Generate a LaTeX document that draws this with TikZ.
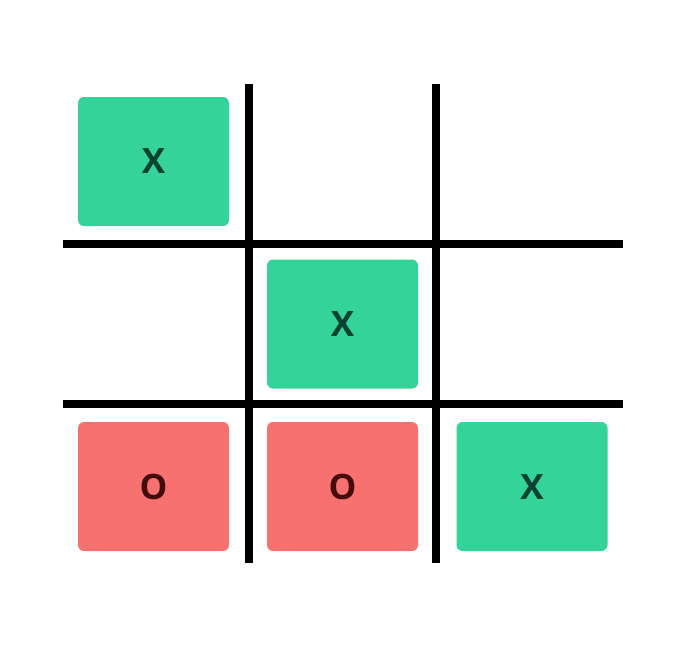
\documentclass[tikz,border=0pt]{standalone}
\usepackage{fontspec}
\setmainfont{Open Sans}
\usepackage{tikz}
\usetikzlibrary{positioning}
\definecolor{xfill}{HTML}{34D399}
\definecolor{xtext}{HTML}{064232}
\definecolor{ofill}{HTML}{F87171}
\definecolor{otext}{HTML}{450A0A}
\tikzset{
  cell/.style={rounded corners=6pt,minimum width=151pt,minimum height=129pt,inner sep=0pt,
    font=\fontsize{35}{35}\selectfont\bfseries},
  xcell/.style={cell,fill=xfill,text=xtext},
  ocell/.style={cell,fill=ofill,text=otext},
  gridline/.style={line width=8pt,black}
}

\begin{document}
\begin{tikzpicture}[x=1pt,y=-1pt]
\useasboundingbox (0,0) rectangle (678,657);
% board
\draw[gridline] (249,84) -- (249,563);
\draw[gridline] (436,84) -- (436,563);
\draw[gridline] (63,244) -- (623,244);
\draw[gridline] (63,404) -- (623,404);
% moves
\node[xcell] (c11) at (153.5,161.5) {X};
\node[xcell] (c22) at (342.5,324) {X};
\node[ocell] (c31) at (153.5,486.5) {O};
\node[ocell] (c32) at (342.5,486.5) {O};
\node[xcell] (c33) at (532,486.5) {X};
\end{tikzpicture}
\end{document}
